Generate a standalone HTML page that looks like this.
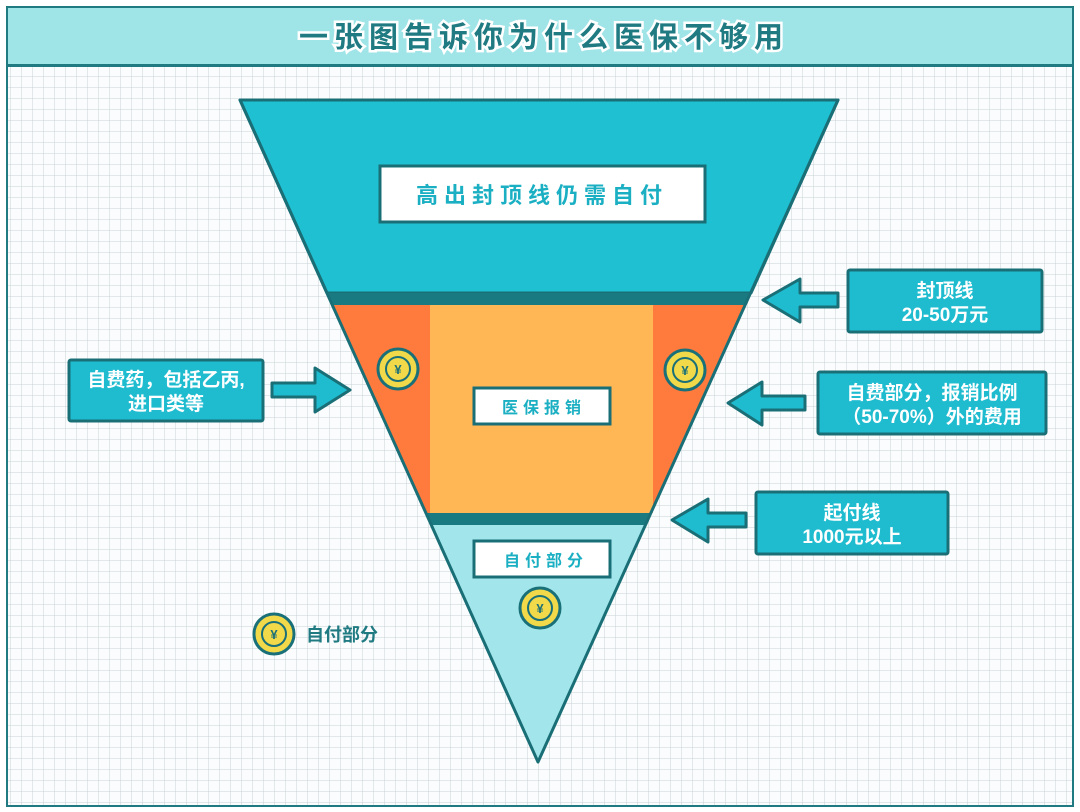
<!DOCTYPE html>
<html><head><meta charset="utf-8"><style>
html,body{margin:0;padding:0;width:1080px;height:812px;overflow:hidden;background:#fff}
svg{display:block}
text{font-family:"Liberation Sans","Noto Sans CJK SC",sans-serif;font-weight:bold}
</style></head><body>
<svg width="1080" height="812" viewBox="0 0 1080 812" xmlns="http://www.w3.org/2000/svg">
<defs>
<pattern id="g" width="11" height="11" patternUnits="userSpaceOnUse">
<rect width="11" height="11" fill="#fafcfd"/>
<path d="M11 0V11M0 11H11" stroke="#c9d2d8" stroke-width="1"/>
</pattern>
<g id="coin">
<circle r="20" fill="#f2d94a" stroke="#1a7078" stroke-width="3"/>
<circle r="12" fill="none" stroke="#1a7078" stroke-width="2"/>
<text y="5" text-anchor="middle" font-size="13" fill="#1a7078">¥</text>
</g>
</defs>
<rect x="0" y="0" width="1080" height="812" fill="#fff"/>
<rect x="7" y="66" width="1066" height="740" fill="url(#g)" stroke="#1f7a82" stroke-width="2"/>
<rect x="7" y="7" width="1066" height="59" fill="#9fe4e7" stroke="#1f7a82" stroke-width="2"/>
<rect x="7" y="64" width="1066" height="3" fill="#1f7a82"/>
<text x="544" y="47" text-anchor="middle" font-size="29" fill="#1f7a82" stroke="#fff" stroke-width="5" paint-order="stroke" letter-spacing="6">一张图告诉你为什么医保不够用</text>

<polygon points="240,100 838,100 751,293 327,293" fill="#1fc0d2" stroke="#1a6f77" stroke-width="3" stroke-linejoin="round"/>
<polygon points="327,293 751,293 746,305 332,305" fill="#1a7a82"/>
<polygon points="332,305 746,305 652,513 426,513" fill="#ff7a3d"/>
<rect x="430" y="305" width="223" height="208" fill="#ffb655"/>
<polygon points="426,513 652,513 647,525 431,525" fill="#1a7a82"/>
<polygon points="431,525 647,525 538,762" fill="#a2e6ec"/>
<polygon points="240,100 838,100 538,762" fill="none" stroke="#1a6f77" stroke-width="3" stroke-linejoin="round"/>

<rect x="380" y="166" width="325" height="56" fill="#fff" stroke="#1a6f77" stroke-width="3"/>
<text x="542" y="203" text-anchor="middle" font-size="22" fill="#1aafc2" letter-spacing="6">高出封顶线仍需自付</text>
<rect x="474" y="388" width="136" height="36" fill="#fff" stroke="#1a6f77" stroke-width="3"/>
<text x="544" y="413" text-anchor="middle" font-size="16" fill="#1aafc2" letter-spacing="5">医保报销</text>
<rect x="474" y="541" width="136" height="36" fill="#fff" stroke="#1a6f77" stroke-width="3"/>
<text x="546" y="566" text-anchor="middle" font-size="16" fill="#1aafc2" letter-spacing="5">自付部分</text>

<use href="#coin" x="398" y="369"/>
<use href="#coin" x="685" y="370"/>
<use href="#coin" x="540" y="608"/>
<use href="#coin" x="274" y="634"/>
<text x="306" y="641" font-size="18" fill="#1f7a82">自付部分</text>

<g fill="#1fbcd0" stroke="#1a6f77" stroke-width="3">
<rect x="69" y="360" width="194" height="61" rx="2"/>
<rect x="848" y="270" width="194" height="62" rx="2"/>
<rect x="818" y="372" width="228" height="62" rx="2"/>
<rect x="756" y="492" width="192" height="62" rx="2"/>
<polygon points="272,383 315,383 315,368 350,390 315,412 315,397 272,397" stroke-linejoin="round"/>
<polygon points="838,293 800,293 800,279 763,300 800,322 800,307 838,307" stroke-linejoin="round"/>
<polygon points="805,396 762,396 762,382 728,403 762,425 762,410 805,410" stroke-linejoin="round"/>
<polygon points="746,513 708,513 708,499 672,520 708,542 708,527 746,527" stroke-linejoin="round"/>
</g>
<g fill="#fff" font-size="19" text-anchor="middle">
<text x="166" y="386">自费药，包括乙丙,</text>
<text x="166" y="410">进口类等</text>
<text x="945" y="297">封顶线</text>
<text x="945" y="321">20-50万元</text>
<text x="932" y="399">自费部分，报销比例</text>
<text x="932" y="423">（50-70%）外的费用</text>
<text x="852" y="519">起付线</text>
<text x="852" y="543">1000元以上</text>
</g>
</svg>
</body></html>
